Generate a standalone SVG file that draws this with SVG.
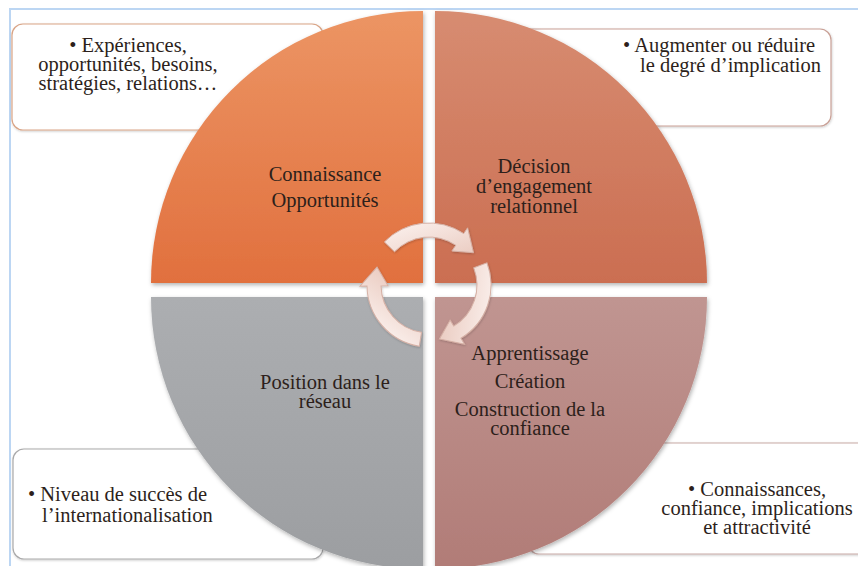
<svg xmlns="http://www.w3.org/2000/svg" width="858" height="566" viewBox="0 0 858 566" font-family="'Liberation Serif', 'Times New Roman', 'DejaVu Serif', serif">
  <style>
    text { font-family: 'Liberation Serif', 'Times New Roman', 'DejaVu Serif', serif; font-size: 20.5px; fill: #2d1f1b; }
    .mid { text-anchor: middle; }
    .box { fill: #ffffff; stroke-width: 1.2; }
    .ring { fill: url(#arrowGrad); stroke: #d6b1a6; stroke-width: 1; }
  </style>
  <defs>
    <linearGradient id="gTL" x1="0" y1="0" x2="0" y2="1">
      <stop offset="0" stop-color="#ec9564"/>
      <stop offset="1" stop-color="#e1703e"/>
    </linearGradient>
    <linearGradient id="gTR" x1="0" y1="0" x2="0" y2="1">
      <stop offset="0" stop-color="#d78c71"/>
      <stop offset="1" stop-color="#cb6e51"/>
    </linearGradient>
    <linearGradient id="gBR" x1="0" y1="0" x2="0" y2="1">
      <stop offset="0" stop-color="#c09591"/>
      <stop offset="1" stop-color="#b17c77"/>
    </linearGradient>
    <linearGradient id="gBL" x1="0" y1="0" x2="0" y2="1">
      <stop offset="0" stop-color="#acaeb1"/>
      <stop offset="1" stop-color="#9c9ea1"/>
    </linearGradient>
    <linearGradient id="arrowGrad" x1="0" y1="0" x2="1" y2="1">
      <stop offset="0" stop-color="#fcf3f0"/>
      <stop offset="1" stop-color="#ebcdc3"/>
    </linearGradient>
    <filter id="shadow" x="-10%" y="-10%" width="120%" height="120%">
      <feDropShadow dx="1" dy="2" stdDeviation="2" flood-color="#000" flood-opacity="0.3"/>
    </filter>
    <filter id="softShadow" x="-10%" y="-10%" width="120%" height="120%">
      <feDropShadow dx="0.5" dy="1" stdDeviation="1.2" flood-color="#000" flood-opacity="0.2"/>
    </filter>
    <path id="arrow" d="M 384.4 241.9 A 62 62 0 0 1 463.7 233.6 L 467.6 227.8 L 473.5 252.7 L 451.9 251.0 L 455.8 245.2 A 48 48 0 0 0 394.5 251.7 Z"/>
  </defs>

  <rect x="0" y="0" width="858" height="566" fill="#ffffff"/>
  <rect x="10" y="9" width="900" height="600" fill="none" stroke="#bcd6f3" stroke-width="2"/>

  <!-- detail boxes (behind quadrants) -->
  <g id="box-top-left">
    <rect class="box" x="12" y="24" width="311" height="106" rx="11" stroke="#d9a486" filter="url(#softShadow)"/>
    <text class="mid" x="128" y="52">• Expériences,</text>
    <text class="mid" x="128" y="71">opportunités, besoins,</text>
    <text class="mid" x="128" y="90">stratégies, relations…</text>
  </g>
  <g id="box-top-right">
    <rect class="box" x="515" y="29" width="316" height="97" rx="11" stroke="#c9a096" filter="url(#softShadow)"/>
    <text x="623" y="52">• Augmenter ou réduire</text>
    <text x="640" y="72">le degré d’implication</text>
  </g>
  <g id="box-bottom-left">
    <rect class="box" x="13" y="449" width="310" height="110" rx="11" stroke="#a9a9aa" filter="url(#softShadow)"/>
    <text x="28" y="501">• Niveau de succès de</text>
    <text x="42" y="522">l’internationalisation</text>
  </g>
  <g id="box-bottom-right">
    <rect class="box" x="528" y="443" width="350" height="111" rx="11" stroke="#c7a9a6" filter="url(#softShadow)"/>
    <text class="mid" x="757" y="496">• Connaissances,</text>
    <text class="mid" x="757" y="515">confiance, implications</text>
    <text class="mid" x="757" y="534">et attractivité</text>
  </g>

  <!-- quadrants -->
  <g id="quadrant-connaissance">
    <path d="M 423 283 L 151 283 A 272 272 0 0 1 423 11 Z" fill="url(#gTL)" filter="url(#shadow)"/>
  </g>
  <g id="quadrant-decision">
    <path d="M 435 283 L 435 11 A 272 272 0 0 1 707 283 Z" fill="url(#gTR)" filter="url(#shadow)"/>
  </g>
  <g id="quadrant-apprentissage">
    <path d="M 435 297 L 707 297 A 272 272 0 0 1 435 569 Z" fill="url(#gBR)" filter="url(#shadow)"/>
  </g>
  <g id="quadrant-position">
    <path d="M 423 297 L 423 569 A 272 272 0 0 1 151 297 Z" fill="url(#gBL)" filter="url(#shadow)"/>
  </g>

  <!-- cycle arrows -->
  <g id="connectors" filter="url(#softShadow)">
    <use href="#arrow" class="ring"/>
    <use href="#arrow" class="ring" transform="rotate(115 429 285)"/>
    <use href="#arrow" class="ring" transform="rotate(235 429 285)"/>
  </g>

  <!-- quadrant labels -->
  <g id="label-connaissance">
    <text class="mid" x="325" y="181">Connaissance</text>
    <text class="mid" x="325" y="207">Opportunités</text>
  </g>
  <g id="label-decision">
    <text class="mid" x="534" y="173">Décision</text>
    <text class="mid" x="534" y="193">d’engagement</text>
    <text class="mid" x="534" y="213">relationnel</text>
  </g>
  <g id="label-apprentissage">
    <text class="mid" x="530" y="360">Apprentissage</text>
    <text class="mid" x="530" y="388">Création</text>
    <text class="mid" x="530" y="416">Construction de la</text>
    <text class="mid" x="530" y="435">confiance</text>
  </g>
  <g id="label-position">
    <text class="mid" x="325" y="389">Position dans le</text>
    <text class="mid" x="325" y="408">réseau</text>
  </g>
</svg>
